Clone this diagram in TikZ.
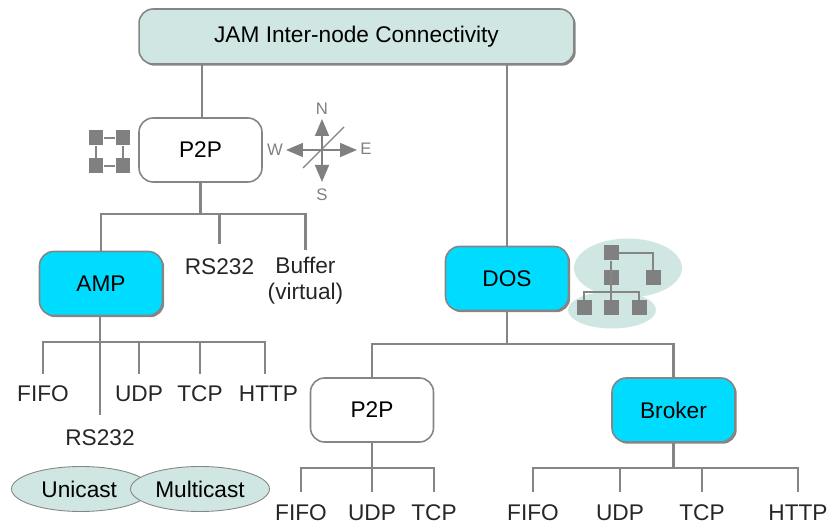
\documentclass[tikz,border=0pt]{standalone}
\usepackage{fontspec}
\setmainfont{Liberation Sans}
\usetikzlibrary{arrows.meta,shadows,shapes.geometric}
\definecolor{linegray}{HTML}{858585}
\definecolor{palegreen}{HTML}{CFE6E3}
\definecolor{cyanbox}{HTML}{00DCFF}
\tikzset{
	box/.style={draw=linegray, line width=0.9pt, rounded corners=8pt, minimum width=2.46cm, minimum height=1.28cm, fill=white, font=\fontsize{12.9}{14.7}\selectfont},
	filledbox/.style={box, fill=cyanbox, drop shadow={shadow xshift=0.035cm, shadow yshift=-0.035cm, opacity=1, fill=linegray}},
	label/.style={font=\fontsize{12.9}{14.7}\selectfont, inner sep=0pt, text=black!85},
	link/.style={draw=linegray, line width=1.15pt},
	thin link/.style={draw=linegray, line width=0.8pt},
	sq/.style={fill=black!50, minimum size=0.3cm, inner sep=0pt},
	oval/.style={ellipse, draw=linegray, line width=0.5pt, fill=palegreen, minimum width=2.78cm, minimum height=0.9cm, inner sep=0pt, font=\fontsize{12.9}{14.7}\selectfont},
	dir/.style={font=\fontsize{9.5}{11}\selectfont, text=black!50, inner sep=0pt},
	pointer/.style={draw=black!50, line width=1pt, -{Triangle[length=0.34cm,width=0.28cm]}}
}
\begin{document}
\begin{tikzpicture}[x=0.02cm,y=-0.02cm]
	\useasboundingbox (0,0) rectangle (829,526);

	% top of the tree
	\node[box, fill=palegreen, minimum width=8.7cm, minimum height=1.1cm, drop shadow={shadow xshift=0.035cm, shadow yshift=-0.035cm, opacity=1, fill=linegray}] (jam) at (356.5,36.5) {\raisebox{-1pt}{JAM Inter-node Connectivity}};
	\node[box] (p2pa) at (200.5,150) {P2P};
	\node[filledbox] (dos) at (507,278.5) {DOS};
	\node[filledbox] (amp) at (101,283.5) {AMP};
	\node[box] (p2pb) at (372,410) {P2P};
	\node[filledbox] (broker) at (673.5,410) {Broker};

	\coordinate (ja) at (202,64);
	\draw[link] (ja) -- (ja |- p2pa.north);
	\draw[link] (jam.south -| dos.north) -- (dos.north);

	% P2P branch
	\node[label] (rsa) at (219.5,267) {RS232};
	\node[label, align=center] (buffer) at (305.5,280.5) {Buffer\\(virtual)};
	\coordinate (p2pafork) at (200.5,214);
	\draw[link] (p2pa.south) -- (p2pafork);
	\draw[link] (amp.north) -- (amp.north |- p2pafork) -- (buffer.north |- p2pafork) -- (buffer.north |- 0,250);
	\draw[link] (rsa.north |- p2pafork) -- (219.5,244);

	% AMP branch
	\node[label] (fifoa) at (43,394) {FIFO};
	\node[label] (udpa) at (139,394) {UDP};
	\node[label] (tcpa) at (200,394) {TCP};
	\node[label] (httpa) at (268.5,394) {HTTP};
	\node[label] (rsb) at (100,438) {RS232};
	\coordinate (ampfork) at (100,342);
	\draw[link] (amp.south -| ampfork) -- (100,415);
	\draw[link] (43,374) -- (43,342) -- (265,342) -- (265,374);
	\draw[link] (139,342) -- (139,374);
	\draw[link] (200,342) -- (200,374);

	% DOS branch
	\coordinate (dosfork) at (507,344);
	\draw[link] (dos.south) -- (dosfork);
	\draw[link] (p2pb.north) -- (p2pb.north |- dosfork) -- (broker.north |- dosfork) -- (broker.north);

	% lower P2P
	\node[label] (fifob) at (301,513) {FIFO};
	\node[label] (udpb) at (372,513) {UDP};
	\node[label] (tcpb) at (434,513) {TCP};
	\draw[link] (p2pb.south) -- (372,492);
	\draw[link] (301,492) -- (301,468) -- (434,468) -- (434,492);

	% Broker
	\node[label] (fifoc) at (533,513) {FIFO};
	\node[label] (udpc) at (620,513) {UDP};
	\node[label] (tcpc) at (702,513) {TCP};
	\node[label] (httpc) at (798,513) {HTTP};
	\draw[link] (broker.south) -- (673.5,468);
	\draw[link] (533,492) -- (533,468) -- (798,468) -- (798,492);
	\draw[link] (620,468) -- (620,492);
	\draw[link] (702,468) -- (702,492);

	% casts
	\node[oval] (unicast) at (81,489) {\hspace*{-2pt}Unicast};
	\node[oval] (multicast) at (200,489) {Multicast};

	% mesh icon
	\node[sq] (m1) at (96,138) {};
	\node[sq] (m2) at (123,138) {};
	\node[sq] (m3) at (96,166) {};
	\node[sq] (m4) at (123,166) {};
	\draw[thin link] (m1) -- (m2) -- (m4) -- (m3) -- (m1);

	% compass
	\coordinate (c) at (322,150);
	\node[dir] (n) at (322,108.5) {N};
	\node[dir] (s) at (322,195) {S};
	\node[dir] (w) at (275,150) {W};
	\node[dir] (e) at (366,149) {E};
	\draw[pointer] (c) -- (322,119);
	\draw[pointer] (c) -- (322,182);
	\draw[pointer] (c) -- (286,150);
	\draw[pointer] (c) -- (357,150);
	\coordinate (slasha) at (303,168);
	\coordinate (slashb) at (344,127);
	\draw[black!50, line width=0.8pt] (slasha) -- (slashb);

	% tree icon
	\node[ellipse, fill=palegreen, minimum width=2.16cm, minimum height=1.18cm] (bigoval) at (628,268) {};
	\node[ellipse, fill=palegreen, minimum width=1.76cm, minimum height=0.74cm] (smalloval) at (612,310) {};
	\node[sq] (t1) at (611,253) {};
	\node[sq] (t2) at (611,278) {};
	\node[sq] (t3) at (653,278) {};
	\node[sq] (t4) at (584,308) {};
	\node[sq] (t5) at (611,308) {};
	\node[sq] (t6) at (639,308) {};
	\draw[thin link] (t1) -- (t5);
	\draw[thin link] (t1) -| (t3);
	\draw[thin link] (t4) |- (611,292) -| (t6);
\end{tikzpicture}
\end{document}
